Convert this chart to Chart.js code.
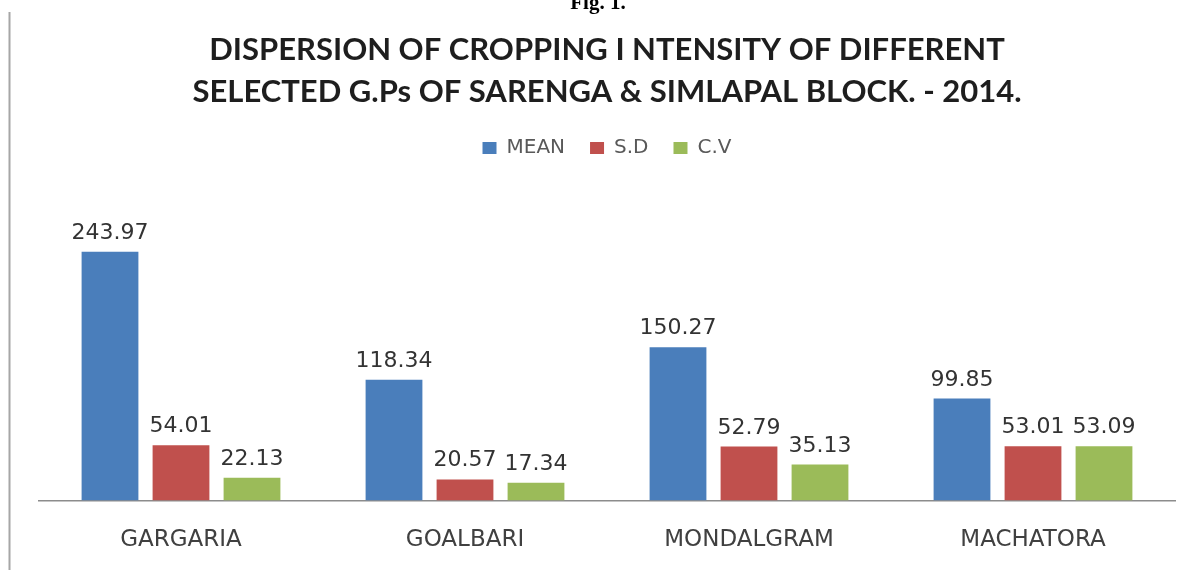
<!DOCTYPE html>
<html>
<head>
<meta charset="utf-8">
<script src="https://cdn.jsdelivr.net/npm/chart.js@4/dist/chart.umd.min.js"></script>
<style>
  html, body { margin: 0; padding: 0; background: #fff; }
  #wrap { width: 1187px; height: 570px; position: relative; }
</style>
</head>
<body>
<div id="wrap"><canvas id="c" width="1187" height="570"></canvas></div>
<script>
const categories = ["GARGARIA", "GOALBARI", "MONDALGRAM", "MACHATORA"];
const meanValues = [243.97, 118.34, 150.27, 99.85];
const sdValues = [54.01, 20.57, 52.79, 53.01];
const cvValues = [22.13, 17.34, 35.13, 53.09];
const seriesNames = ["MEAN", "S.D", "C.V"];
const titleLines = ["DISPERSION OF CROPPING I NTENSITY OF DIFFERENT", "SELECTED G.Ps OF SARENGA & SIMLAPAL BLOCK. - 2014."];
const figLabel = "Fig. 1.";

const decor = {
  id: 'decor',
  beforeDraw(chart) {
    const ctx = chart.ctx;
    ctx.save();
    ctx.fillStyle = '#fff';
    ctx.fillRect(0, 0, chart.width, chart.height);
    ctx.strokeStyle = '#a6a6a6';
    ctx.lineWidth = 2;
    ctx.beginPath();
    ctx.moveTo(9.5, 12);
    ctx.lineTo(9.5, 570);
    ctx.stroke();
    ctx.fillStyle = '#000';
    ctx.font = 'bold 21px "Liberation Serif"';
    ctx.textAlign = 'center';
    ctx.textBaseline = 'alphabetic';
    ctx.fillText(figLabel, 598, 9);
    ctx.restore();
  },
  afterDatasetsDraw(chart) {
    const ctx = chart.ctx;
    ctx.save();
    ctx.font = '22px "DejaVu Sans"';
    ctx.fillStyle = '#333';
    ctx.textAlign = 'center';
    ctx.textBaseline = 'alphabetic';
    chart.data.datasets.forEach((ds, i) => {
      chart.getDatasetMeta(i).data.forEach((bar, j) => {
        ctx.fillText(ds.data[j].toFixed(2), bar.x, bar.y - 13);
      });
    });
    ctx.restore();
  }
};

new Chart(document.getElementById('c'), {
  type: 'bar',
  data: {
    labels: categories,
    datasets: [
      { label: seriesNames[0], data: meanValues, backgroundColor: '#4a7ebb' },
      { label: seriesNames[1], data: sdValues, backgroundColor: '#c0504d' },
      { label: seriesNames[2], data: cvValues, backgroundColor: '#9bbb59' }
    ]
  },
  options: {
    responsive: false,
    animation: false,
    devicePixelRatio: 1,
    layout: { padding: { left: 39, right: 12, top: 0, bottom: -10 } },
    datasets: { bar: { categoryPercentage: 0.75, barPercentage: 0.8 } },
    plugins: {
      title: {
        display: true,
        text: titleLines,
        font: { family: 'Lato', weight: 'bold', size: 31, lineHeight: 1.355 },
        color: '#1e1e1e',
        padding: { top: 29, bottom: 0 }
      },
      legend: {
        display: true,
        labels: {
          boxWidth: 14, boxHeight: 12,
          font: { family: 'DejaVu Sans', size: 20 },
          color: '#595959',
          padding: 25
        }
      },
      tooltip: { enabled: false }
    },
    scales: {
      x: {
        grid: { display: false, drawTicks: false },
        border: { color: '#8c8c8c', width: 1.5 },
        ticks: { font: { family: 'DejaVu Sans', size: 23 }, color: '#404040', padding: 26 }
      },
      y: { display: false, min: 0, max: 326 }
    }
  },
  plugins: [decor]
});
</script>
</body>
</html>
